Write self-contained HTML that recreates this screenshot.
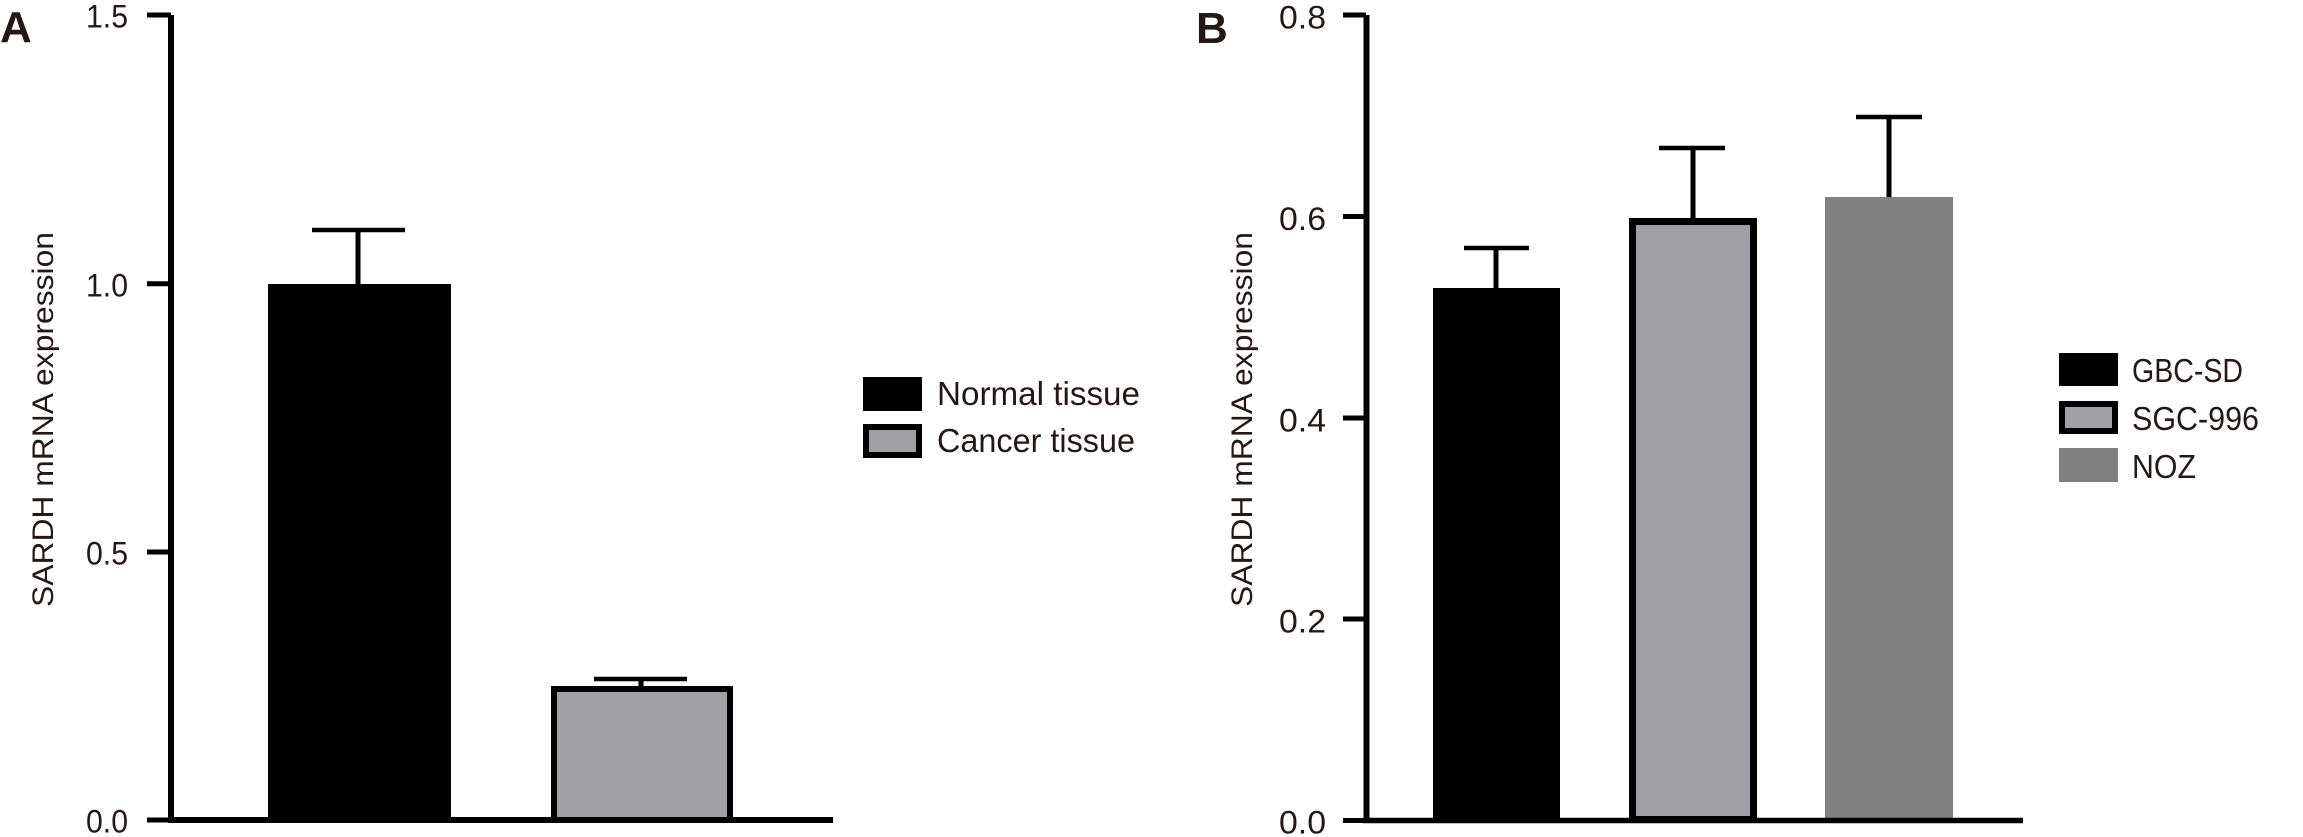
<!DOCTYPE html>
<html>
<head>
<meta charset="utf-8">
<style>
  html,body{margin:0;padding:0;background:#fff;}
  svg{display:block;}
  text{font-family:"Liberation Sans", Arial, sans-serif;fill:#231815;}
</style>
</head>
<body>
<svg width="2303" height="837" viewBox="0 0 2303 837" xmlns="http://www.w3.org/2000/svg">
  <rect width="2303" height="837" fill="#fff"/>

  <!-- ===== Panel A ===== -->
  <text x="0" y="42" font-size="44" font-weight="bold">A</text>

  <!-- y axis title -->
  <text x="53" y="419.5" font-size="30" text-anchor="middle" textLength="375" lengthAdjust="spacingAndGlyphs" transform="rotate(-90 53 419.5)">SARDH mRNA expression</text>

  <!-- bars -->
  <rect x="268" y="284" width="183" height="536" fill="#000"/>
  <rect x="554" y="689" width="176" height="131" fill="#a09fa4" stroke="#000" stroke-width="6"/>

  <!-- error bars -->
  <line x1="358" y1="284" x2="358" y2="230" stroke="#000" stroke-width="5"/>
  <line x1="312" y1="230" x2="405" y2="230" stroke="#000" stroke-width="4.5"/>
  <line x1="641" y1="686" x2="641" y2="679" stroke="#000" stroke-width="5"/>
  <line x1="594" y1="679" x2="687" y2="679" stroke="#000" stroke-width="4.5"/>

  <!-- axes -->
  <line x1="171" y1="15" x2="171" y2="823" stroke="#000" stroke-width="6"/>
  <line x1="168" y1="820" x2="833" y2="820" stroke="#000" stroke-width="6"/>
  <line x1="147" y1="15" x2="171" y2="15" stroke="#000" stroke-width="5"/>
  <line x1="147" y1="283.7" x2="171" y2="283.7" stroke="#000" stroke-width="5"/>
  <line x1="147" y1="552" x2="171" y2="552" stroke="#000" stroke-width="5"/>
  <line x1="147" y1="820" x2="171" y2="820" stroke="#000" stroke-width="5"/>

  <!-- tick labels -->
  <text x="128" y="27.5" font-size="32" text-anchor="end" textLength="42" lengthAdjust="spacingAndGlyphs">1.5</text>
  <text x="128" y="296.5" font-size="32" text-anchor="end" textLength="42" lengthAdjust="spacingAndGlyphs">1.0</text>
  <text x="128" y="564.5" font-size="32" text-anchor="end" textLength="42" lengthAdjust="spacingAndGlyphs">0.5</text>
  <text x="128" y="832.5" font-size="32" text-anchor="end" textLength="42" lengthAdjust="spacingAndGlyphs">0.0</text>

  <!-- legend A -->
  <rect x="863" y="377" width="59" height="34" fill="#000"/>
  <rect x="866" y="427" width="53" height="28" fill="#a09fa4" stroke="#000" stroke-width="6"/>
  <text x="937" y="405" font-size="33" textLength="203" lengthAdjust="spacingAndGlyphs">Normal tissue</text>
  <text x="937" y="452" font-size="33" textLength="198" lengthAdjust="spacingAndGlyphs">Cancer tissue</text>

  <!-- ===== Panel B ===== -->
  <text x="1196" y="43" font-size="44" font-weight="bold">B</text>

  <text x="1252" y="419.5" font-size="30" text-anchor="middle" textLength="375" lengthAdjust="spacingAndGlyphs" transform="rotate(-90 1252 419.5)">SARDH mRNA expression</text>

  <!-- bars -->
  <rect x="1433" y="288" width="127" height="532" fill="#000"/>
  <rect x="1632.5" y="221.5" width="121" height="598" fill="#a09fa4" stroke="#000" stroke-width="7"/>
  <rect x="1825" y="197" width="128" height="623" fill="#808080"/>

  <!-- error bars -->
  <line x1="1496" y1="288" x2="1496" y2="248" stroke="#000" stroke-width="5"/>
  <line x1="1464" y1="248" x2="1529" y2="248" stroke="#000" stroke-width="4.5"/>
  <line x1="1693" y1="218" x2="1693" y2="148" stroke="#000" stroke-width="5"/>
  <line x1="1659" y1="148" x2="1725" y2="148" stroke="#000" stroke-width="4.5"/>
  <line x1="1889" y1="197" x2="1889" y2="117" stroke="#000" stroke-width="5"/>
  <line x1="1856" y1="117" x2="1922" y2="117" stroke="#000" stroke-width="4.5"/>

  <!-- axes -->
  <line x1="1366.5" y1="15" x2="1366.5" y2="823" stroke="#000" stroke-width="6"/>
  <line x1="1363" y1="820.5" x2="2023" y2="820.5" stroke="#000" stroke-width="5.5"/>
  <line x1="1343" y1="15" x2="1366" y2="15" stroke="#000" stroke-width="5"/>
  <line x1="1343" y1="216.5" x2="1366" y2="216.5" stroke="#000" stroke-width="5"/>
  <line x1="1343" y1="418" x2="1366" y2="418" stroke="#000" stroke-width="5"/>
  <line x1="1343" y1="619" x2="1366" y2="619" stroke="#000" stroke-width="5"/>
  <line x1="1343" y1="820.5" x2="1366" y2="820.5" stroke="#000" stroke-width="5"/>

  <!-- tick labels -->
  <text x="1326" y="28.5" font-size="32" text-anchor="end" textLength="47" lengthAdjust="spacingAndGlyphs">0.8</text>
  <text x="1326" y="230" font-size="32" text-anchor="end" textLength="47" lengthAdjust="spacingAndGlyphs">0.6</text>
  <text x="1326" y="431.5" font-size="32" text-anchor="end" textLength="47" lengthAdjust="spacingAndGlyphs">0.4</text>
  <text x="1326" y="632.5" font-size="32" text-anchor="end" textLength="47" lengthAdjust="spacingAndGlyphs">0.2</text>
  <text x="1326" y="833.5" font-size="32" text-anchor="end" textLength="47" lengthAdjust="spacingAndGlyphs">0.0</text>

  <!-- legend B -->
  <rect x="2059" y="353" width="59" height="33" fill="#000"/>
  <rect x="2062" y="404" width="53" height="27" fill="#a09fa4" stroke="#000" stroke-width="6"/>
  <rect x="2059" y="448" width="59" height="34" fill="#808080"/>
  <text x="2132" y="382" font-size="33" textLength="111" lengthAdjust="spacingAndGlyphs">GBC-SD</text>
  <text x="2132" y="430" font-size="33" textLength="127" lengthAdjust="spacingAndGlyphs">SGC-996</text>
  <text x="2132" y="478" font-size="33" textLength="64" lengthAdjust="spacingAndGlyphs">NOZ</text>
</svg>
</body>
</html>
